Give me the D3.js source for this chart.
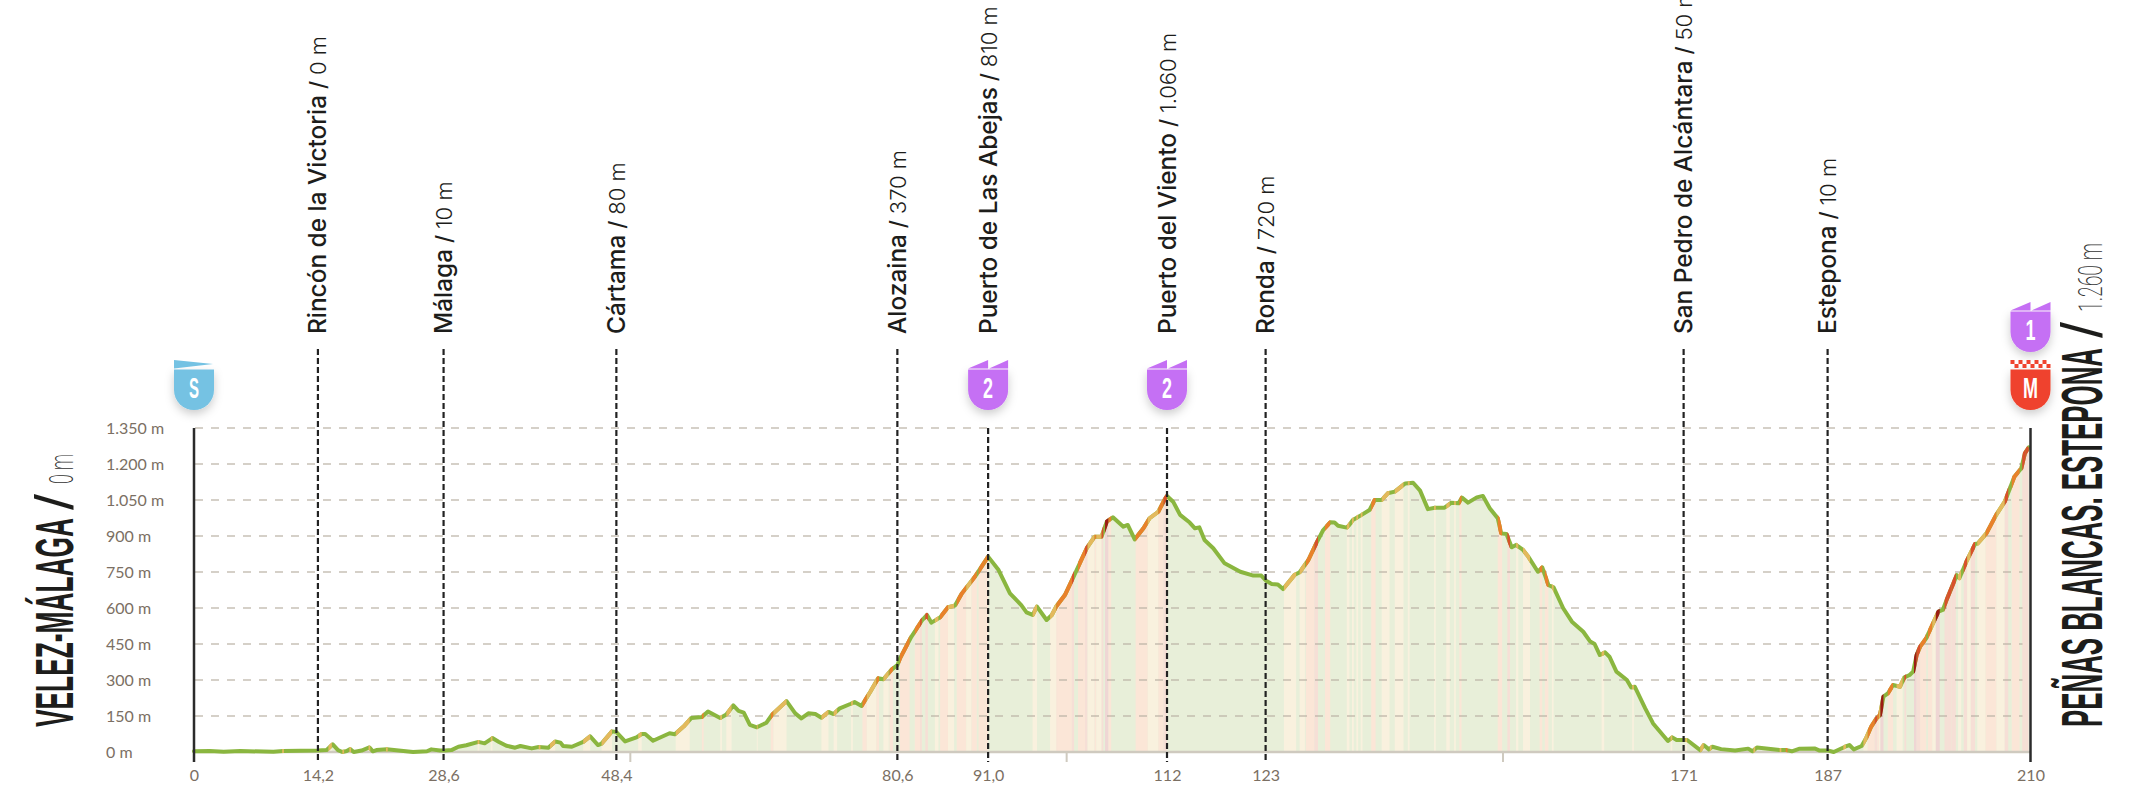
<!DOCTYPE html>
<html><head><meta charset="utf-8">
<script src="https://cdnjs.cloudflare.com/ajax/libs/d3/7.8.5/d3.min.js"></script>
<style>
html,body{margin:0;padding:0;background:#fff;overflow:hidden}
svg{display:block}
</style></head><body>
<svg id="c" width="2150" height="810"></svg>
<script>
// ---------- DATA ----------
const profileKm=[0,1.8,3.4,5.3,9.1,10.2,14.2,15.2,15.9,16.5,17,17.5,17.9,18.3,19.2,20.1,20.5,20.9,22.1,24,25.1,26.7,27.2,28.2,28.8,29.5,30.3,31.2,32.6,33.3,34.2,34.9,35.8,36.8,37.4,38.7,39.5,40.6,41.4,42,42.3,43.3,44.6,45.4,46.3,46.7,47.9,48.4,49.4,50.7,51.3,51.7,52.6,54.5,55.1,56.1,57,58.2,58.9,60.3,61,61.8,62.4,63,63.7,64.5,65.6,66.2,67.9,68.9,69.6,70.4,71.2,71.9,72.7,73.3,74,75.2,75.7,76.5,77.5,78.4,79,79.9,80.6,80.9,81.5,82.2,83.4,84,84.5,85.5,86.4,87.2,88,89.5,91,92.2,93.5,94.8,95.4,96.1,96.6,97.7,98.3,98.8,99.8,100.8,102.3,103.2,104,104.6,105.3,106.5,107,107.8,108.8,109.5,110.5,111.3,111.5,112.2,113,114.1,114.7,115.2,115.8,116.8,118.1,119.9,121.4,122.3,122.9,123.5,124.2,124.8,126.1,126.7,127.7,128.6,129.4,130.2,130.7,131.1,132.1,132.4,132.8,133.8,134.7,135.3,136.1,136.8,137.6,138.8,139.7,140.5,141.4,142.2,143.3,144.1,144.9,145.3,146,147,147.7,148.5,149.4,149.8,150.4,151,151.5,152.3,152.9,154,154.5,155.2,155.8,156.9,157.9,159.2,160,160.5,161.1,161.7,162.2,163,164.2,164.7,165.1,166.3,167.2,168.9,169.4,169.9,171.1,172.6,173,173.6,174,175,176.6,178.1,178.6,179.1,181.7,182.5,183.1,184,185.7,186.3,187.3,187.9,189.2,189.7,190.2,191.1,191.6,192.2,192.8,193.2,193.6,194.1,194.7,195.5,196,196.6,197,197.4,197.8,198.5,199.1,199.9,200.4,200.9,202,202.3,203.1,204.1,204.4,205.4,206.5,207.5,208.6,209.4,209.8,210.25];
const profileEle=[3,4,1,4,1,4,6,8,32,8,0,4,12,0,6,19,3,8,11,4,0,3,11,6,6,8,22,28,42,36,58,43,26,18,25,15,21,18,44,39,25,22,42,65,29,35,86,83,44,61,75,75,47,78,74,106,142,146,169,142,156,194,171,164,113,103,122,154,212,161,140,161,158,143,167,158,182,200,208,192,251,307,303,342,362,390,432,480,547,571,539,561,603,610,661,731,814,758,661,612,582,571,606,550,571,606,654,731,849,897,897,960,978,939,946,886,932,974,1001,1057,1067,1043,988,956,932,936,883,849,786,751,735,735,712,700,698,679,737,749,800,869,925,957,956,943,935,946,967,988,1008,1050,1050,1078,1085,1119,1122,1089,1012,1018,1018,1039,1036,1060,1039,1061,1067,1015,974,911,908,853,863,842,814,751,769,696,686,599,543,501,460,450,404,415,397,335,300,269,272,182,119,46,61,50,50,8,29,11,22,12,6,14,3,19,8,8,3,14,15,6,6,0,22,29,11,25,57,106,140,154,231,244,279,272,311,321,335,404,439,474,522,585,592,640,737,724,793,867,869,911,987,1043,1147,1182,1244,1269];
// gradient bands: start km, end km, class (1 yellow, 2 orange, 3 red, 4 dark red)
const bandStart=[10.1,15.4,17,17.8,20,22,32.5,34,39.5,40.8,44.6,46.7,50.9,55.2,58.2,60.3,61,64.5,66.1,66.4,71.9,73.3,75.3,76.6,77.1,78.2,79,79.7,80.9,82.6,83.2,83.8,84.9,85.5,86.4,87.4,88.5,89.1,89.9,90.6,96.1,98.1,98.8,99,100.6,101.3,102.1,102.4,103.2,103.4,104,104.4,104.8,107.9,109.3,110.5,111.1,124.9,126.7,127.4,128.4,129.6,132.1,132.7,133.2,133.7,134.9,136.1,137.6,139.1,142.1,143.5,144.4,145,149.4,150.5,151.5,152.3,154.2,154.8,155.6,161.3,164.8,169.2,170.9,172.6,173.7,178.7,181.7,182.4,189,191.3,191.8,192.6,192.9,193.1,193.25,194.1,195.1,196,197.1,197.4,197.8,198.7,199.2,199.6,200.6,200.9,201.4,202.15,202.8,203.2,203.6,204.35,205.3,206.55,207.5,208.3,209.5,209.85];
const bandEnd=[10.3,15.8,17.2,18,20.2,22.2,32.7,34.2,39.7,41.4,45.4,47.9,51.3,56.8,58.4,60.5,61.6,64.6,66.4,67.9,72.7,73.7,75.5,77.1,78.2,78.5,79.6,80.1,82,83.2,83.4,84.1,85.3,86.4,87.1,88.5,89.1,89.7,90.6,91,96.6,98.8,99,100.6,100.85,102.1,102.4,103.2,103.4,104,104.2,104.8,105.1,109.3,110.5,111.1,111.5,126.3,127.3,128.4,128.8,130.2,132.4,132.9,133.4,133.9,135.4,137,138.6,139.3,142.3,143.9,144.6,145.25,149.9,150.8,151.75,153.1,154.5,155.2,155.8,161.6,165,169.4,171.1,173,173.9,178.9,181.9,182.6,189.3,191.8,192.6,192.9,193.1,193.25,193.6,194.7,195.8,196.2,197.4,197.8,198.5,199.2,199.6,200.05,200.9,201.4,201.9,202.5,203.2,203.6,204.1,205.3,206.55,207.5,207.9,209.2,209.85,210.25];
const bandClass=[1,1,1,1,1,1,1,1,1,1,1,1,1,1,2,1,1,1,2,1,1,1,1,2,1,2,1,2,2,2,3,3,1,2,1,2,1,2,2,2,1,1,2,2,3,2,3,1,2,1,3,4,2,2,1,2,3,1,1,2,3,2,1,1,1,1,2,1,1,1,1,1,1,2,2,3,1,1,2,2,1,1,1,1,1,1,1,1,1,2,1,1,2,3,2,1,4,2,1,3,4,3,2,2,1,4,3,3,3,1,3,1,3,1,2,1,3,2,3,3];

const yTicks=[0,150,300,450,600,750,900,1050,1200,1350];
const markerKm=[14.2,28.6,48.4,80.6,91,111.5,122.8,170.7,187.2];
const markerTickLabels=["14,2","28,6","48,4","80,6","91,0","112","123","171","187"];
const markerNames=["Rincón de la Victoria","Málaga","Cártama","Alozaina","Puerto de Las Abejas","Puerto del Viento","Ronda","San Pedro de Alcántara","Estepona"];
const markerAlt=["0 m","10 m","80 m","370 m","810 m","1.060 m","720 m","50 m","10 m"];
const markerHasBadge=[false,false,false,false,true,true,false,false,false];
const plainKmTicks=[50,100,150];
const startName="VELEZ-MÁLAGA", startAlt="0 m";
const finishName="PEÑAS BLANCAS. ESTEPONA", finishAlt="1.260 m";
const badgeKm=[0,91,111.5,210.45,210.45];
const badgeText=["S","2","2","1","M"];
const badgeType=["start","climb","climb","climb","finish"];
const badgeRaise=[0,0,0,58,0];

// ---------- SCALES ----------
const svg=d3.select("#c");
const X0=194,X1=2030.5,Y0=752,Y1=428,BOT=762,TOPL=349;
const x=d3.scaleLinear().domain([0,210.45]).range([X0,X1]);
const y=d3.scaleLinear().domain([0,1350]).range([Y0,Y1]);
const pts=profileKm.map((k,i)=>({k,e:profileEle[i]}));
const bands=bandStart.map((s,i)=>({s,e:bandEnd[i],c:bandClass[i]}));
const lineCol={0:"#8ab63f",1:"#e4b95d",2:"#e9812b",3:"#d9502b",4:"#9c1c14"};
const fillCol={1:"#f9f1de",2:"#fbe6d7",3:"#f6dfd6",4:"#efd6d4"};
const area=d3.area().x(d=>x(d.k)).y0(Y0).y1(d=>y(d.e));
const line=d3.line().x(d=>x(d.k)).y(d=>y(d.e));
const AXF="Lato, 'Open Sans', sans-serif";

const defs=svg.append("defs");
const f=defs.append("filter").attr("id","sh").attr("x","-60%").attr("y","-60%").attr("width","220%").attr("height","220%");
f.append("feDropShadow").attr("dx",0).attr("dy",4).attr("stdDeviation",5).attr("flood-color","#000").attr("flood-opacity",.2);
defs.append("clipPath").attr("id","areaClip").append("path").attr("d",area(pts));
bands.forEach((b,i)=>defs.append("clipPath").attr("id","b"+i).append("rect")
  .attr("x",x(b.s)).attr("width",x(b.e)-x(b.s)).attr("y",0).attr("height",810));

// fill
svg.append("path").attr("d",area(pts)).attr("fill","#e8efd9");
svg.append("g").attr("clip-path","url(#areaClip)").selectAll("rect").data(bands).join("rect")
  .attr("x",d=>x(d.s)).attr("width",d=>x(d.e)-x(d.s)).attr("y",Y1).attr("height",Y0-Y1).attr("fill",d=>fillCol[d.c]);

// grid
svg.append("g").selectAll("line").data(yTicks.slice(1)).join("line")
  .attr("x1",X0).attr("x2",X1-8).attr("y1",d=>y(d)).attr("y2",d=>y(d))
  .attr("stroke","#b9b0a3").attr("stroke-opacity",.6).attr("stroke-width",2).attr("stroke-dasharray","8 8").attr("stroke-dashoffset",-1);

// baseline + plain km ticks
svg.append("line").attr("x1",X0).attr("x2",X1).attr("y1",Y0).attr("y2",Y0).attr("stroke","#cfcabf").attr("stroke-width",2.5);
svg.append("g").selectAll("line").data(plainKmTicks).join("line")
  .attr("x1",d=>x(d)).attr("x2",d=>x(d)).attr("y1",Y0).attr("y2",BOT).attr("stroke","#cfcabf").attr("stroke-width",2);

// profile line
svg.append("path").attr("d",line(pts)).attr("fill","none").attr("stroke",lineCol[0]).attr("stroke-width",4).attr("stroke-linejoin","round").attr("stroke-linecap","round");
svg.append("g").selectAll("path").data(bands).join("path")
  .attr("d",line(pts)).attr("clip-path",(d,i)=>`url(#b${i})`).attr("fill","none")
  .attr("stroke",d=>lineCol[d.c]).attr("stroke-width",4).attr("stroke-linejoin","round");

// marker dashed lines
const markers=markerKm.map((k,i)=>({k,label:markerTickLabels[i],name:markerNames[i],alt:markerAlt[i],badge:markerHasBadge[i]}));
svg.append("g").selectAll("line").data(markers).join("line")
  .attr("x1",d=>x(d.k)).attr("x2",d=>x(d.k)).attr("y1",d=>d.badge?Y1:TOPL).attr("y2",BOT)
  .attr("stroke","#222").attr("stroke-width",2.2).attr("stroke-dasharray","6 3");

// side axes
svg.append("g").selectAll("line").data([X0,X1]).join("line").attr("x1",d=>d).attr("x2",d=>d).attr("y1",Y1).attr("y2",BOT)
  .attr("stroke","#2b2b2b").attr("stroke-width",2.5);

// y axis
const ya=svg.append("g").attr("transform",`translate(${X0},0)`).call(d3.axisLeft(y).tickValues(yTicks).tickSize(0)
  .tickFormat(d=>d3.formatLocale({decimal:",",thousands:".",grouping:[3],currency:["",""]}).format(",")(d)+" m"));
ya.select(".domain").remove();
ya.selectAll("text").attr("x",106-X0).attr("text-anchor","start").attr("font-family",AXF).attr("font-size",16).attr("font-weight",400).attr("fill","#7b6f63");

// x axis
const xa=svg.append("g").attr("transform",`translate(0,${BOT})`).call(d3.axisBottom(x).tickValues([0,...markerKm,210.45]).tickSize(0)
  .tickFormat(d=>d===0?"0":d===210.45?"210":markerTickLabels[markerKm.indexOf(d)]));
xa.select(".domain").remove();
xa.selectAll("text").attr("y",8).attr("dy","0.71em").attr("font-family",AXF).attr("font-size",16).attr("fill","#7b6f63");

// marker labels
const lab=svg.append("g").selectAll("text").data(markers).join("text")
  .attr("transform",d=>`translate(${x(d.k)+8.5},334) rotate(-90)`)
  .attr("font-family","Inter, sans-serif").attr("font-size",24.4).attr("fill","#1d1d1b");
lab.append("tspan").attr("font-weight",500).text(d=>d.name);
lab.append("tspan").attr("font-weight",500).attr("font-size",22).text(" / ");
lab.append("tspan").attr("font-weight",300).attr("font-size",22).text(d=>d.alt);

// side titles
function side(txt,bx,by,len,size,weight,fam,col){
  svg.append("text").attr("transform",`translate(${bx},${by}) rotate(-90)`).attr("font-family",fam).attr("font-size",size)
    .attr("font-weight",weight).attr("fill",col).attr("textLength",len).attr("lengthAdjust","spacingAndGlyphs").text(txt);
}
const TF="'Liberation Sans', sans-serif", TL="Roboto, sans-serif";
side(startName,73,727,209,54,700,TF,"#1d1d1b");
side("/",73,510,16,54,400,TF,"#1d1d1b");
side(startAlt,73,484,30,33,200,TL,"#333");
side(finishName,2102,727,379,57,700,TF,"#1d1d1b");
side("/",2102,338,16,57,400,TF,"#1d1d1b");
side(finishAlt,2102,312,69,34,200,TL,"#333");

// badges
const bw=20;
const bg=svg.append("g").selectAll("g").data(badgeKm.map((k,i)=>({k,t:badgeText[i],type:badgeType[i],r:badgeRaise[i]}))).join("g")
  .attr("transform",d=>`translate(${x(d.k)},${360-d.r})`);
const colOf={start:"#74c2e3",climb:"#c56ff4",finish:"#ef432e"};
bg.append("path").attr("filter","url(#sh)").attr("fill",d=>colOf[d.type])
  .attr("d",`M${-bw},9.5H${bw}V30A${bw},20 0 0 1 ${-bw},30Z`);
bg.filter(d=>d.type==="start").append("path").attr("fill",colOf.start).attr("d",`M${-bw},0L${bw-1},4L${-bw},8.5Z`);
bg.filter(d=>d.type==="climb").append("path").attr("fill",colOf.climb).attr("d",`M${-bw},8.5L0,0V8.5ZM1,8.5L${bw},0V8.5Z`);
const checker=d3.range(10).flatMap(i=>d3.range(2).filter(j=>(i+j)%2===0).map(j=>[i,j]));
bg.filter(d=>d.type==="finish").selectAll("rect").data(checker).join("rect")
  .attr("x",d=>-bw+d[0]*4).attr("y",d=>d[1]*4).attr("width",4).attr("height",4).attr("fill",colOf.finish);
bg.append("text").attr("x",0).attr("y",38).attr("text-anchor","middle").attr("fill","#fff")
  .attr("font-family",TF).attr("font-weight",700).attr("font-size",29)
  .attr("textLength",d=>d.t==="M"?15:10).attr("lengthAdjust","spacingAndGlyphs").text(d=>d.t);
</script>
</body></html>
